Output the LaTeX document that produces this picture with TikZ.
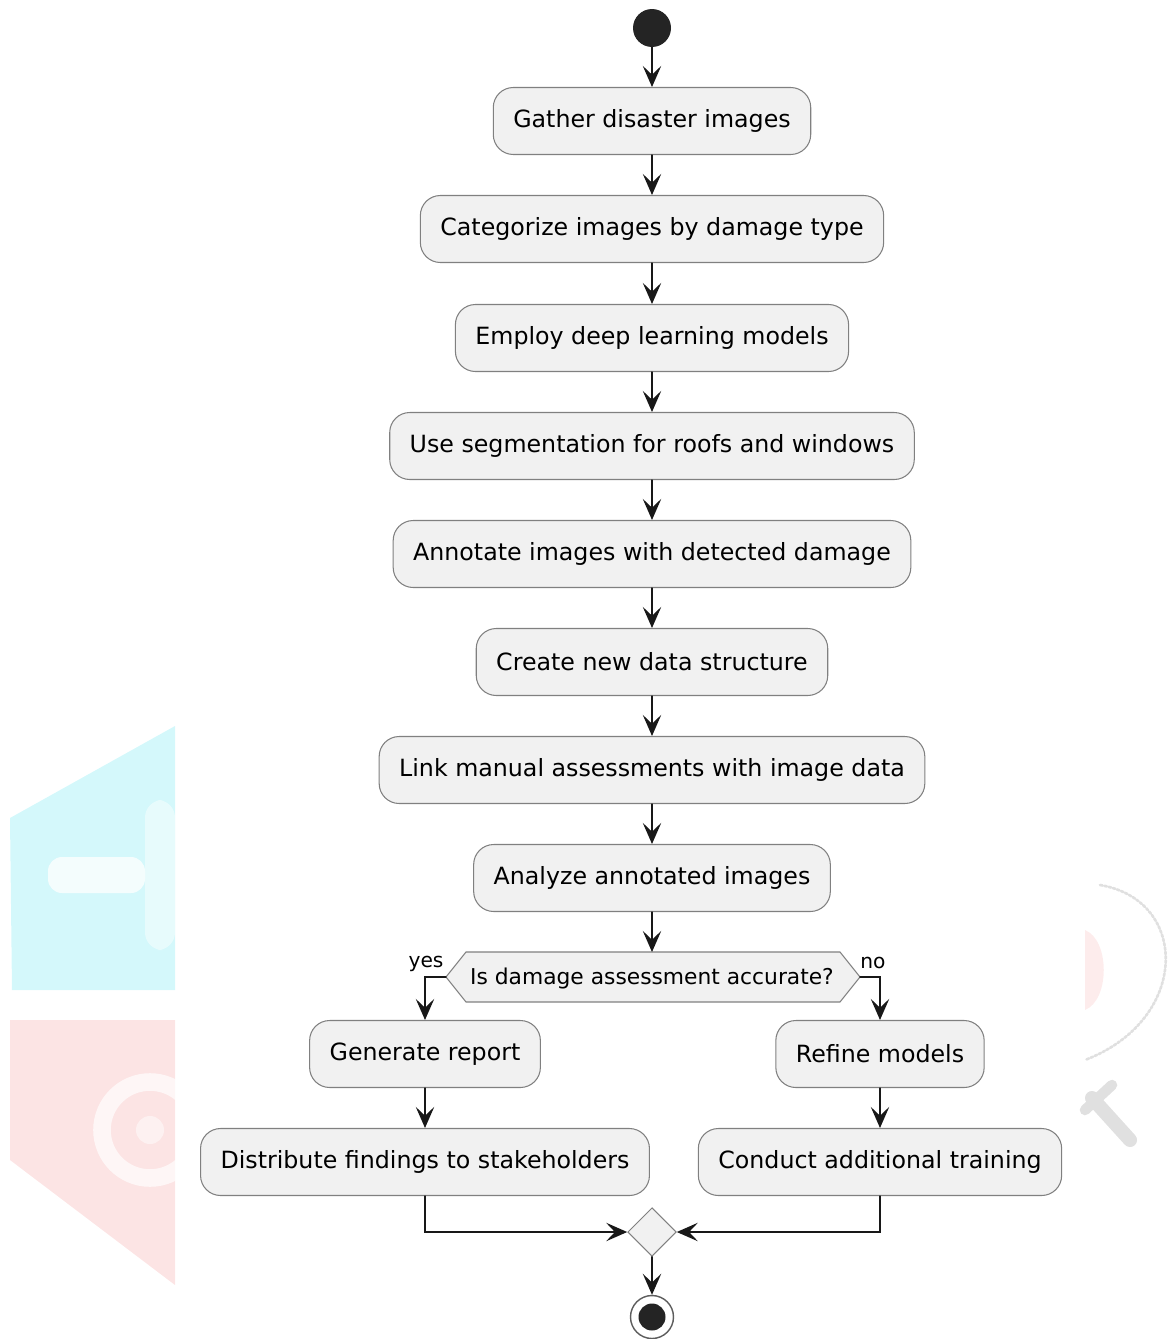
\documentclass[tikz,border=0pt]{standalone}
\usepackage{fontspec}
\setmainfont{DejaVu Sans}
\usetikzlibrary{arrows.meta,shapes.geometric}
\definecolor{actfill}{HTML}{F1F1F1}
\definecolor{actline}{HTML}{181818}
\definecolor{wmcyan}{HTML}{D4F8FB}
\definecolor{wmpink}{HTML}{FCE4E4}
\definecolor{wmgray}{HTML}{E0E0E0}

\begin{document}
\begin{tikzpicture}[x=0.02cm, y=-0.02cm, line cap=round,
  act/.style={draw=actline!55, line width=0.6pt, fill=actfill, rounded corners=0.4cm,
    minimum height=1.34cm, inner xsep=0.4cm, font=\fontsize{13.5}{16}\selectfont},
  flow/.style={draw=actline, line width=0.8pt, -{Stealth[length=12pt,width=10.5pt,inset=5pt]}},
  lbl/.style={font=\fontsize{11.5}{13}\selectfont, inner sep=0pt}]
  \useasboundingbox (0,0) rectangle (1176,1339);
  \fill[wmcyan] (10,818) -- (175,726) -- (175,990) -- (12,990) -- cycle;
  \fill[white, opacity=.75, rounded corners=8pt] (48,857) rectangle (145,893);
  \fill[white, opacity=.45, rounded corners=10pt] (145,800) rectangle (175,950);
  \fill[wmpink] (10,1020) -- (175,1020) -- (175,1285) -- (10,1160) -- cycle;
  \draw[white, opacity=.7, line width=10pt] (150,1130) circle (48);
  \fill[white, opacity=.5] (150,1130) circle (14);
  \fill[wmpink!70!white] (1085,930) .. controls (1110,940) and (1110,1000) .. (1085,1010) -- cycle;
  \draw[wmgray, line width=1.5pt, densely dotted] (1100,885) .. controls (1190,900) and (1190,1020) .. (1085,1060);
  \draw[wmgray, line width=8pt] (1092,1098) -- (1130,1140);
  \draw[wmgray, line width=6pt] (1085,1110) -- (1112,1085);

  \node[circle, fill=actline!95, minimum size=0.76cm, inner sep=0pt] (start) at (652,28) {};
  \node[act] (gather) at (652,121) {Gather disaster images};
  \node[act] (categorize) at (652,229) {Categorize images by damage type};
  \node[act] (employ) at (652,338) {Employ deep learning models};
  \node[act] (segment) at (652,446) {Use segmentation for roofs and windows};
  \node[act] (annotate) at (652,554) {Annotate images with detected damage};
  \node[act] (structure) at (652,662) {Create new data structure};
  \node[act] (link) at (652,770) {Link manual assessments with image data};
  \node[act] (analyze) at (652,878) {Analyze annotated images};

  \coordinate (decl) at (446,977);
  \coordinate (decr) at (860,977);
  \filldraw[draw=actline!55, line width=0.6pt, fill=actfill] (decl) -- (466,952) -- (840,952)
    -- (decr) -- (840,1002) -- (466,1002) -- cycle;
  \node[font=\fontsize{12.4}{15}\selectfont, inner sep=0pt] (decision) at (652,978) {Is damage assessment accurate?};
  \coordinate (dectop) at (652,952);
  \node[lbl] (yes) at (426,964) {yes};
  \node[lbl] (no) at (873,963) {no};

  \node[act] (report) at (425,1054) {Generate report};
  \node[act] (distribute) at (425,1162) {Distribute findings to stakeholders};
  \node[act] (refine) at (880,1054) {Refine models};
  \node[act] (training) at (880,1162) {Conduct additional training};

  \node[diamond, aspect=1, draw=actline!55, line width=0.6pt, fill=actfill, minimum size=0.97cm, inner sep=0pt] (merge) at (652,1232) {};
  \node[circle, draw=actline!70, line width=0.8pt, fill=white, minimum size=0.86cm, inner sep=0pt] (stop) at (652,1317) {};
  \node[circle, fill=actline!95, minimum size=0.54cm, inner sep=0pt] at (stop) {};

  \draw[flow] (start) -- (gather);
  \draw[flow] (gather) -- (categorize);
  \draw[flow] (categorize) -- (employ);
  \draw[flow] (employ) -- (segment);
  \draw[flow] (segment) -- (annotate);
  \draw[flow] (annotate) -- (structure);
  \draw[flow] (structure) -- (link);
  \draw[flow] (link) -- (analyze);
  \draw[flow] (analyze) -- (dectop);
  \draw[flow] (decl) -| (report);
  \draw[flow] (decr) -| (refine);
  \draw[flow] (report) -- (distribute);
  \draw[flow] (refine) -- (training);
  \draw[flow] (distribute) |- (merge);
  \draw[flow] (training) |- (merge);
  \draw[flow] (merge) -- (stop);
\end{tikzpicture}
\end{document}
